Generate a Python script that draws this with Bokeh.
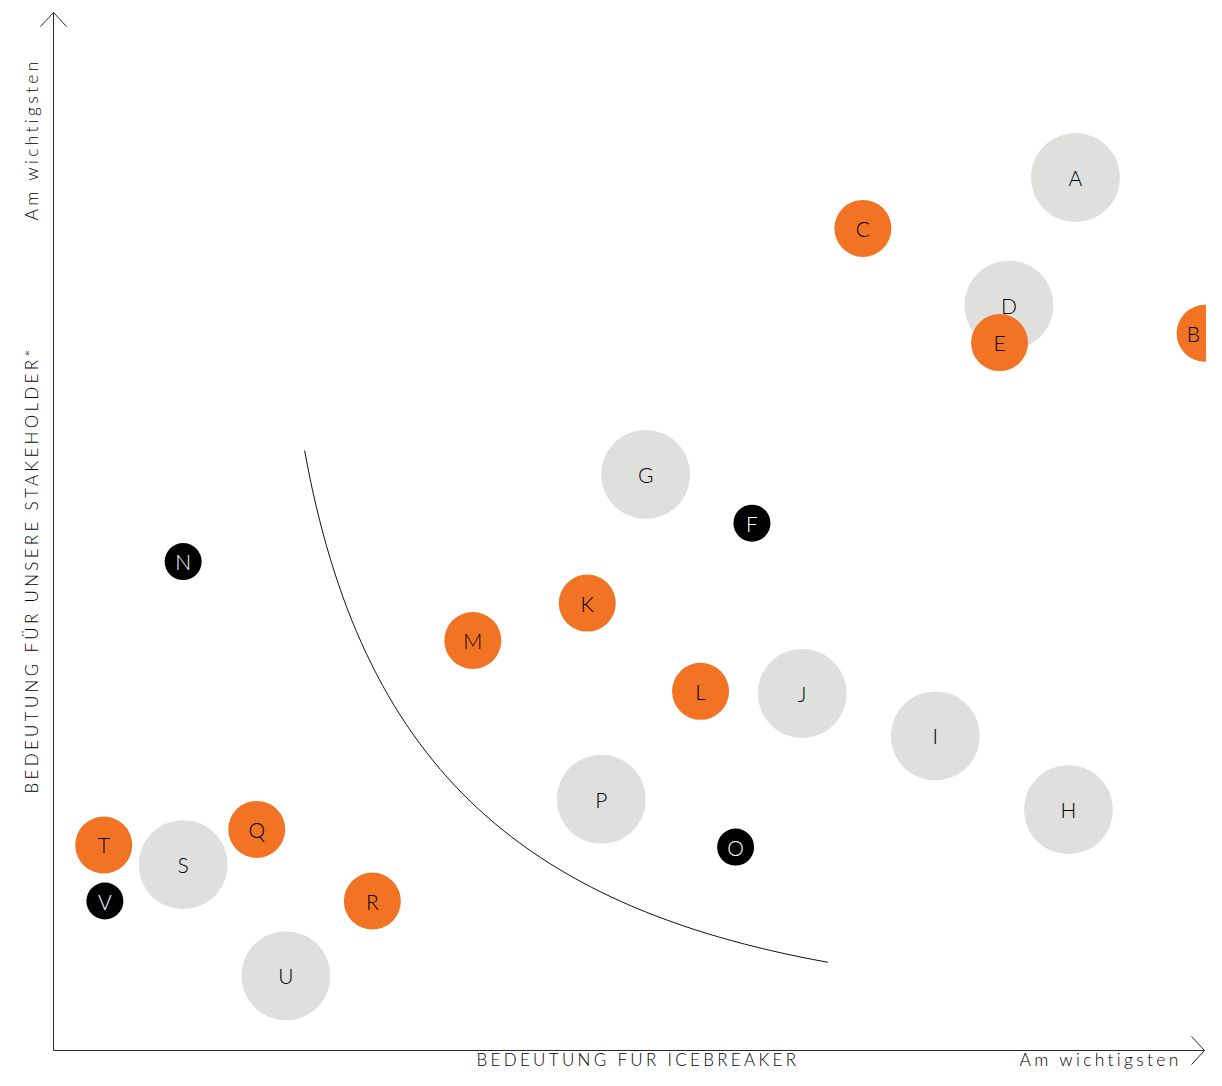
import numpy as np
import pandas as pd
from bokeh.plotting import figure
from bokeh.models import ColumnDataSource, Range1d, InlineStyleSheet
from bokeh.core.properties import value
from bokeh.embed import file_html
from bokeh.resources import INLINE
from bokeh.transform import factor_cmap

# ---- data (0..100 importance scale; x = Icebreaker, y = stakeholders) ----
labels = ["A", "B", "C", "D", "E", "F", "G", "H", "I", "J", "K",
          "L", "M", "N", "O", "P", "Q", "R", "S", "T", "U", "V"]
x_vals = [87.5, 98.6, 69.3, 81.8, 81.0, 59.8, 50.7, 86.9, 75.5, 64.1, 45.7,
          55.4, 35.9, 11.1, 58.4, 46.9, 17.4, 27.3, 11.1, 4.3, 19.9, 4.4]
y_vals = [84.1, 69.1, 79.2, 71.8, 68.2, 50.8, 55.5, 23.2, 30.3, 34.4, 43.1,
          34.6, 39.5, 47.1, 19.6, 24.2, 21.3, 14.4, 17.9, 19.8, 7.2, 14.4]
groups = ["grau", "orange", "orange", "grau", "orange", "schwarz", "grau", "grau", "grau", "grau", "orange",
          "orange", "orange", "schwarz", "schwarz", "grau", "orange", "orange", "grau", "orange", "grau", "schwarz"]

group_order = ["grau", "orange", "schwarz"]
group_colors = ["#DFE0DE", "#F37325", "#000000"]
group_text_colors = {"grau": "#000000", "orange": "#000000", "schwarz": "#ffffff"}
group_sizes = {"grau": 89, "orange": 57, "schwarz": 37}

# separating curve (cubic Bezier) in data units
curve_start = (21.5, 57.8)
curve_ctrl1 = (26.3, 27.9)
curve_ctrl2 = (39.7, 13.9)
curve_end = (66.3, 8.5)

x_title = "BEDEUTUNG FÜR ICEBREAKER"
y_title = "BEDEUTUNG FÜR UNSERE STAKEHOLDER*"
max_label = "Am wichtigsten"

# ---- build ----
W, H = 1206, 1070
ox, oy = 53, 1050          # axis origin in pixels
px_x, px_y = 11.68, 10.38  # pixels per unit


def dx(px):
    return (px - ox) / px_x


def dy(py):
    return (oy - py) / px_y


df = pd.DataFrame({"label": labels, "x": x_vals, "y": y_vals, "group": groups})
df["rank"] = df["group"].map({g: i for i, g in enumerate(group_order)})
df = df.sort_values(["rank"], kind="stable").reset_index(drop=True)
df["size"] = df["group"].map(group_sizes)
df["tcolor"] = df["group"].map(group_text_colors)
# keep labels of bubbles that touch the right edge inside the picture
centre_px = ox + df["x"] * px_x
df["lab_off"] = np.minimum(0, (W - 13) - centre_px)
src = ColumnDataSource(df)

p = figure(width=W, height=H, output_backend="svg", toolbar_location=None,
           x_range=Range1d(dx(0), dx(W)), y_range=Range1d(dy(H), dy(0)),
           min_border=0, tools="")
p.axis.visible = False
p.grid.visible = False
p.outline_line_color = None
p.background_fill_color = "white"
p.border_fill_color = "white"
p.stylesheets = [InlineStyleSheet(css=":host { letter-spacing: 3.3px; }")]

# axes with open arrow heads
axis_col = "#2a2a2a"
x_tip = dx(1204)
ax_dx, ax_dy = 13 / px_x, 14 / px_y
p.line([0, 0], [0, 100], line_color=axis_col, line_width=1)
p.line([0, x_tip], [0, 0], line_color=axis_col, line_width=1)
p.line([-ax_dx, 0, ax_dx], [100 - ax_dy, 100, 100 - ax_dy], line_color=axis_col, line_width=1)
p.line([x_tip - ax_dx, x_tip, x_tip - ax_dx], [ax_dy, 0, -ax_dy], line_color=axis_col, line_width=1)

# curve
p.bezier(x0=[curve_start[0]], y0=[curve_start[1]], x1=[curve_end[0]], y1=[curve_end[1]],
         cx0=[curve_ctrl1[0]], cy0=[curve_ctrl1[1]], cx1=[curve_ctrl2[0]], cy1=[curve_ctrl2[1]],
         line_color="#111111", line_width=1)

font = value("Lato Light")

# bubbles
p.scatter("x", "y", source=src, size="size", line_color=None,
          fill_color=factor_cmap("group", group_colors, group_order))
p.text("x", "y", text="label", source=src, text_color="tcolor",
       text_font=font, text_font_size="21px", x_offset="lab_off",
       text_align="center", text_baseline="middle")

# axis titles (left-anchored because of the letter spacing)
p.text(x=[dx(476)], y=[dy(1059)], text=[x_title], text_font=font, text_font_size="17px",
       text_color="#000000", text_align="left", text_baseline="middle")
p.text(x=[dx(1019)], y=[dy(1059)], text=[max_label], text_font=font, text_font_size="17.5px",
       text_color="#000000", text_align="left", text_baseline="middle")
p.text(x=[dx(31)], y=[dy(793)], text=[y_title], text_font=font, text_font_size="17px",
       text_color="#000000", text_align="left", text_baseline="middle", angle=np.pi / 2)
p.text(x=[dx(31)], y=[dy(220)], text=[max_label], text_font=font, text_font_size="17.5px",
       text_color="#000000", text_align="left", text_baseline="middle", angle=np.pi / 2)

open("out.html", "w").write(file_html(p, INLINE))
